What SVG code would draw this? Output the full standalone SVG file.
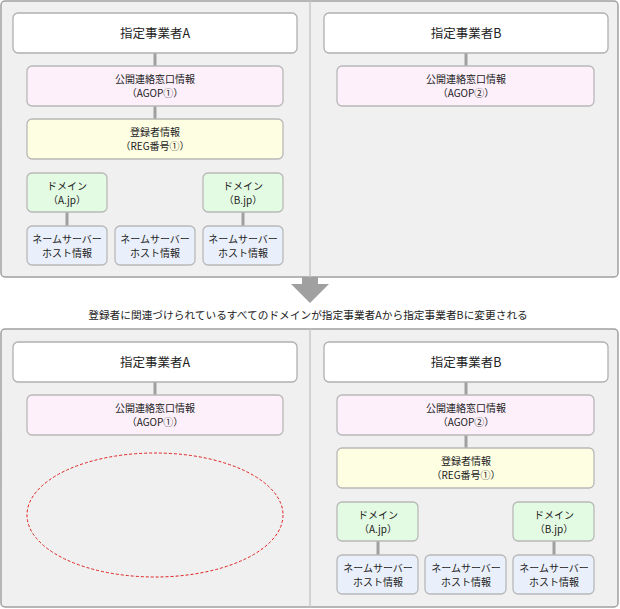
<svg xmlns="http://www.w3.org/2000/svg" width="620" height="609" viewBox="0 0 620 609">
<style>
text{font-family:"Noto Sans CJK JP","Liberation Sans",sans-serif;font-size:10px;fill:#222;text-anchor:middle}
.h{font-size:12.5px}
.outer{fill:#f0f0f0;stroke:#a0a0a0;stroke-width:1.5}
.hd{fill:#fff;stroke:#b0b0b0;stroke-width:1.3}
.pk{fill:#fdf0fb;stroke:#b8b8b8;stroke-width:1.3}
.yl{fill:#fefee2;stroke:#b8b8b8;stroke-width:1.3}
.gr{fill:#e4fbe3;stroke:#b8b8b8;stroke-width:1.3}
.bl{fill:#eaf0fb;stroke:#b8b8b8;stroke-width:1.3}
.ln{stroke:#a0a0a0;stroke-width:3}
</style>
<g id="panels">
<rect class="outer" x="1" y="1" width="617" height="276" rx="4"/>
<line x1="310" y1="1" x2="310" y2="277" stroke="#c8c8c8" stroke-width="1.5"/>
<rect class="outer" x="1" y="329" width="617" height="278" rx="4"/>
<line x1="310" y1="329" x2="310" y2="607" stroke="#c8c8c8" stroke-width="1.5"/>
</g>
<g id="connectors">
<line class="ln" x1="155" y1="53" x2="155" y2="66"/>
<line class="ln" x1="155" y1="106" x2="155" y2="119"/>
<line class="ln" x1="67" y1="212" x2="67" y2="226"/>
<line class="ln" x1="243" y1="212" x2="243" y2="226"/>
<line class="ln" x1="466" y1="53" x2="466" y2="66"/>
<line class="ln" x1="155" y1="382" x2="155" y2="395"/>
<line class="ln" x1="466" y1="382" x2="466" y2="395"/>
<line class="ln" x1="466" y1="435" x2="466" y2="448"/>
<line class="ln" x1="378" y1="541" x2="378" y2="555"/>
<line class="ln" x1="554" y1="541" x2="554" y2="555"/>
<polygon points="302,277 318,277 318,284 329,284 310,303 291,284 302,284" fill="#a0a0a0"/>
</g>
<text x="308" y="319" style="font-size:10.7px">登録者に関連づけられているすべてのドメインが指定事業者Aから指定事業者Bに変更される</text>
<g id="topA">
<rect class="hd" x="13" y="13" width="284" height="40" rx="5"/><text class="h" x="155" y="38">指定事業者A</text>
<rect class="pk" x="27" y="66" width="256" height="40" rx="5"/><text x="155" y="83">公開連絡窓口情報</text><text x="155" y="97">（AGOP①）</text>
<rect class="yl" x="27" y="119" width="256" height="40" rx="5"/><text x="155" y="136">登録者情報</text><text x="155" y="150">（REG番号①）</text>
<rect class="gr" x="27" y="173" width="80" height="39" rx="5"/><text x="67" y="190">ドメイン</text><text x="67" y="204">（A.jp）</text>
<rect class="gr" x="203" y="173" width="80" height="39" rx="5"/><text x="243" y="190">ドメイン</text><text x="243" y="204">（B.jp）</text>
<rect class="bl" x="27" y="226" width="80" height="39" rx="5"/><text x="67" y="243">ネームサーバー</text><text x="67" y="257">ホスト情報</text>
<rect class="bl" x="115" y="226" width="80" height="39" rx="5"/><text x="155" y="243">ネームサーバー</text><text x="155" y="257">ホスト情報</text>
<rect class="bl" x="203" y="226" width="80" height="39" rx="5"/><text x="243" y="243">ネームサーバー</text><text x="243" y="257">ホスト情報</text>
</g>
<g id="topB">
<rect class="hd" x="324" y="13" width="284" height="40" rx="5"/><text class="h" x="466" y="38">指定事業者B</text>
<rect class="pk" x="337" y="66" width="257" height="40" rx="5"/><text x="466" y="83">公開連絡窓口情報</text><text x="466" y="97">（AGOP②）</text>
</g>
<g id="botA">
<rect class="hd" x="13" y="342" width="284" height="40" rx="5"/><text class="h" x="155" y="367">指定事業者A</text>
<rect class="pk" x="27" y="395" width="256" height="40" rx="5"/><text x="155" y="412">公開連絡窓口情報</text><text x="155" y="426">（AGOP①）</text>
<ellipse cx="155" cy="515" rx="128" ry="62" fill="none" stroke="#e02020" stroke-width="1" stroke-dasharray="3,2"/>
</g>
<g id="botB">
<rect class="hd" x="324" y="342" width="284" height="40" rx="5"/><text class="h" x="466" y="367">指定事業者B</text>
<rect class="pk" x="337" y="395" width="257" height="40" rx="5"/><text x="466" y="412">公開連絡窓口情報</text><text x="466" y="426">（AGOP②）</text>
<rect class="yl" x="337" y="448" width="257" height="40" rx="5"/><text x="466" y="465">登録者情報</text><text x="466" y="479">（REG番号①）</text>
<rect class="gr" x="337" y="502" width="81" height="39" rx="5"/><text x="378" y="519">ドメイン</text><text x="378" y="533">（A.jp）</text>
<rect class="gr" x="513" y="502" width="81" height="39" rx="5"/><text x="554" y="519">ドメイン</text><text x="554" y="533">（B.jp）</text>
<rect class="bl" x="337" y="555" width="81" height="39" rx="5"/><text x="378" y="572">ネームサーバー</text><text x="378" y="586">ホスト情報</text>
<rect class="bl" x="425" y="555" width="81" height="39" rx="5"/><text x="466" y="572">ネームサーバー</text><text x="466" y="586">ホスト情報</text>
<rect class="bl" x="513" y="555" width="81" height="39" rx="5"/><text x="554" y="572">ネームサーバー</text><text x="554" y="586">ホスト情報</text>
</g>
</svg>
